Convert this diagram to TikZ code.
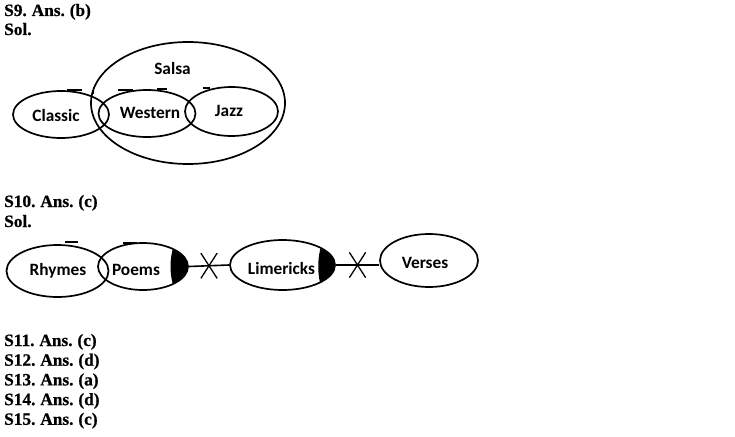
\documentclass[tikz,border=0pt]{standalone}
\usepackage{fontspec}
\setmainfont{Liberation Serif}
\newfontfamily\hdrfont{Liberation Serif}[BoldFeatures={FakeBold=0.7},WordSpace=0.8]
\newfontfamily\lblfont{Carlito}
\usetikzlibrary{shapes.geometric,shapes.misc}
\begin{document}
\begin{tikzpicture}[x=1pt,y=-1pt,
  ov/.style={ellipse,draw,line width=1.7pt,inner sep=0pt},
  lbl/.style={inner sep=0pt,font=\lblfont\bfseries\fontsize{17.3}{20}\selectfont},
  hdr/.style={anchor=base west,inner sep=0pt,font=\hdrfont\bfseries\fontsize{17.3}{20}\selectfont},
  xmark/.style={cross out,draw,line width=1.3pt,minimum width=15pt,minimum height=24pt,inner sep=0pt},
  tick/.style={line width=2.2pt},
  conn/.style={line width=1.6pt}]
\useasboundingbox (0,0) rectangle (735,436);

% headers
\node[hdr] (h9) at (4,16) {S9. Ans. (b)};
\node[hdr] (s9) at (4,35) {Sol.};
\node[hdr] (h10) at (4,207) {S10. Ans. (c)};
\node[hdr] (s10) at (4,227) {Sol.};
\node[hdr] (h11) at (4,346) {S11. Ans. (c)};
\node[hdr] (h12) at (4,365.7) {S12. Ans. (d)};
\node[hdr] (h13) at (4,385.4) {S13. Ans. (a)};
\node[hdr] (h14) at (4,405.1) {S14. Ans. (d)};
\node[hdr] (h15) at (4,424.8) {S15. Ans. (c)};

% diagram S9
\node[ov,minimum width=194pt,minimum height=122pt] (salsa) at (188,103) {};
\node[ov,minimum width=96pt,minimum height=47pt] (classic) at (61,114.5) {};
\node[ov,minimum width=97pt,minimum height=47pt] (western) at (147,113.5) {};
\node[ov,minimum width=93pt,minimum height=49pt] (jazz) at (231.5,111.5) {};
\node[lbl] (salsaT) at (172.5,68) {Salsa};
\node[lbl] (classicT) at (56,115) {Classic};
\node[lbl] (westernT) at (150,113) {Western};
\node[lbl] (jazzT) at (229,111) {Jazz};
\draw[tick] (67,90) -- (82,90);
\draw[tick] (118,90) -- (133,90);
\draw[tick] (157,89) -- (167,89);
\draw[tick] (203,88) -- (210,88);
\draw[line width=1pt] (93,87) -- (93,94);

% diagram S10
\begin{scope}
  \clip (143,266.5) ellipse [x radius=45, y radius=23.5];
  \fill (178,235) .. controls (168,255) and (168,278) .. (178,298) -- (200,298) -- (200,235) -- cycle;
\end{scope}
\begin{scope}
  \clip (282.5,265) ellipse [x radius=52.5, y radius=25];
  \fill (325,235) .. controls (316,255) and (316,278) .. (325,298) -- (345,298) -- (345,235) -- cycle;
\end{scope}
\node[ov,minimum width=102pt,minimum height=52pt] (rhymes) at (57.5,271) {};
\node[ov,minimum width=90pt,minimum height=47pt] (poems) at (143,266.5) {};
\node[ov,minimum width=105pt,minimum height=50pt] (lim) at (282.5,265) {};
\node[ov,minimum width=98pt,minimum height=53pt] (verses) at (429,260.5) {};
\node[lbl] (rhymesT) at (58,271) {Rhymes};
\node[lbl] (poemsT) at (136,270) {Poems};
\node[lbl] (limT) at (281.5,268) {Limericks};
\node[lbl] (versesT) at (425,263) {Verses};
\draw[conn] (poems.east) -- node[xmark] (x1) {} (lim.west);
\draw[conn] (lim.east) -- node[xmark] (x2) {} (lim.east -| verses.west);
\draw[tick] (65,242) -- (78,242);
\draw[tick] (123,243) -- (137,243);
\end{tikzpicture}
\end{document}
